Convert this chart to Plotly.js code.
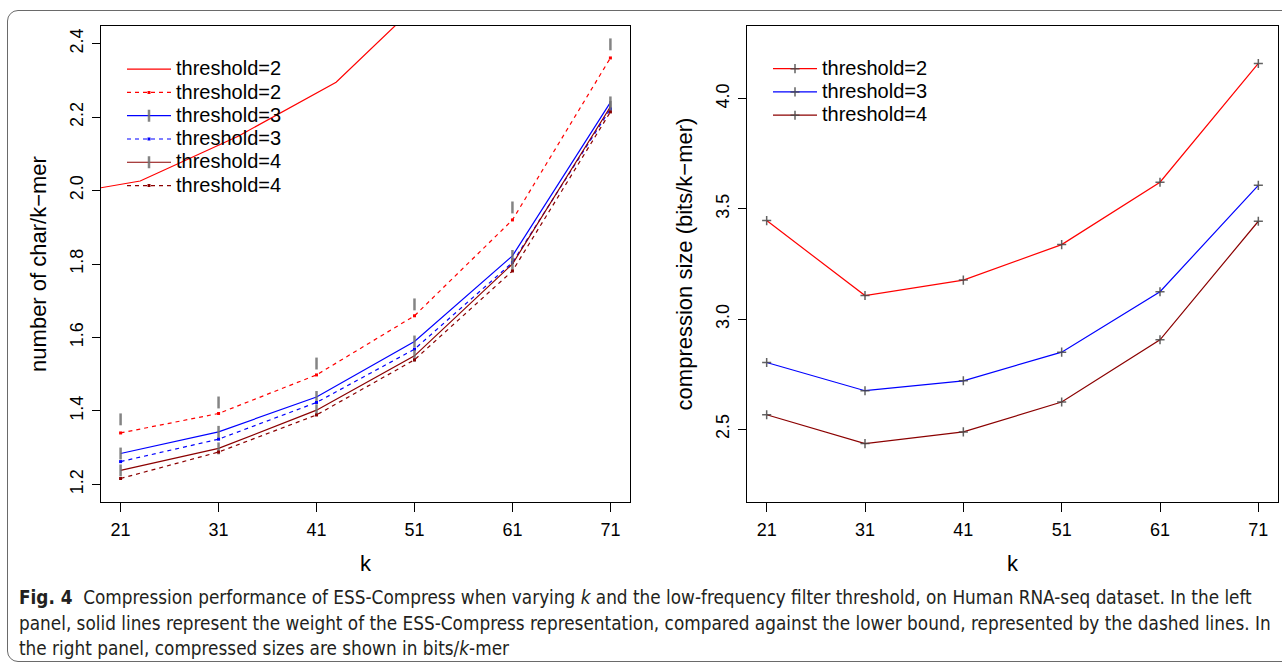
<!DOCTYPE html>
<html>
<head>
<meta charset="utf-8">
<script src="https://cdn.plot.ly/plotly-3.0.1.min.js"></script>
<style>
  html, body { margin: 0; padding: 0; background: #ffffff; }
  #wrap { position: relative; width: 1282px; height: 670px; overflow: hidden; }
  #frame { position: absolute; left: 7px; top: 10px; width: 1300px; height: 652px;
           border: 1.5px solid #6a6a6a; border-radius: 11px; box-sizing: border-box; }
  #chart { position: absolute; left: 0; top: 0; width: 1282px; height: 670px; }
</style>
</head>
<body>
<div id="wrap">
  <div id="frame"></div>
  <div id="chart"></div>
</div>
<script>
// ---------------- data ----------------
const kValues = [21, 31, 41, 51, 61, 71];

// Left panel: number of char / k-mer
const solidT2K      = [13, 23, 33, 43, 53];
const solidT2Line   = [1.980, 2.026, 2.148, 2.295, 2.550];
const solidT2Marks  = [1.377, 1.423, 1.529, 1.690, 1.954, 2.398];
const dashedT2      = [1.340, 1.393, 1.498, 1.659, 1.920, 2.361];
const solidT3       = [1.284, 1.343, 1.438, 1.589, 1.822, 2.240];
const dashedT3      = [1.262, 1.323, 1.423, 1.568, 1.804, 2.222];
const solidT4       = [1.238, 1.298, 1.402, 1.550, 1.800, 2.228];
const dashedT4      = [1.216, 1.288, 1.389, 1.539, 1.781, 2.214];

// Right panel: compression size (bits/k-mer)
const bitsT2 = [3.447, 3.107, 3.177, 3.338, 3.621, 4.160];
const bitsT3 = [2.803, 2.675, 2.720, 2.850, 3.124, 3.607];
const bitsT4 = [2.566, 2.435, 2.488, 2.624, 2.906, 3.444];

const leftYTicks  = [1.2, 1.4, 1.6, 1.8, 2.0, 2.2, 2.4];
const rightYTicks = [2.5, 3.0, 3.5, 4.0];
const seriesNames = ['threshold=2', 'threshold=3', 'threshold=4'];

// ---------------- style ----------------
const RED = '#ff0000', BLUE = '#0000ff', DRED = '#8b0000';
const GRAY_MARK = 'rgba(110,110,110,0.85)';
const FONT = 'Liberation Sans, Arial, sans-serif';
const NARROW = '"Liberation Sans Narrow", "DejaVu Sans Condensed", "Liberation Sans", sans-serif';
const DASH = '4px,4px';
const legendLabel = n => '<span style="font-size:20px">' + n + '</span>';

function solidTrace(x, y, color, name, withMarks) {
  return {
    x: x, y: y, name: legendLabel(name), type: 'scatter', xaxis: 'x', yaxis: 'y', legend: 'legend',
    mode: withMarks ? 'lines+markers' : 'lines',
    line: { color: color, width: 1.2 },
    marker: { symbol: 'line-ns', size: 8.5, color: GRAY_MARK, line: { color: GRAY_MARK, width: 2.5 } }
  };
}
function dashedTrace(x, y, color, name) {
  return {
    x: x, y: y, name: legendLabel(name), type: 'scatter', xaxis: 'x', yaxis: 'y', legend: 'legend',
    mode: 'lines+markers',
    line: { color: color, width: 1.2, dash: DASH },
    marker: { symbol: 'square', size: 3, color: color }
  };
}
function bitsTrace(y, color, name) {
  return {
    x: kValues, y: y, name: legendLabel(name), type: 'scatter', xaxis: 'x2', yaxis: 'y2', legend: 'legend2',
    mode: 'lines+markers',
    line: { color: color, width: 1.2 },
    marker: { symbol: 'cross-thin', size: 6.5, color: 'rgba(70,70,70,0.85)', line: { color: 'rgba(70,70,70,0.85)', width: 1.5 } }
  };
}

const traces = [
  solidTrace(solidT2K, solidT2Line, RED, seriesNames[0], false),
  dashedTrace(kValues, dashedT2, RED, seriesNames[0]),
  solidTrace(kValues, solidT3, BLUE, seriesNames[1], true),
  dashedTrace(kValues, dashedT3, BLUE, seriesNames[1]),
  solidTrace(kValues, solidT4, DRED, seriesNames[2], true),
  dashedTrace(kValues, dashedT4, DRED, seriesNames[2]),
  { x: kValues, y: solidT2Marks, type: 'scatter', mode: 'markers', xaxis: 'x', yaxis: 'y',
    showlegend: false, hoverinfo: 'skip',
    marker: { symbol: 'line-ns', size: 8.5, color: GRAY_MARK, line: { color: GRAY_MARK, width: 2.5 } } },
  bitsTrace(bitsT2, RED, seriesNames[0]),
  bitsTrace(bitsT3, BLUE, seriesNames[1]),
  bitsTrace(bitsT4, DRED, seriesNames[2])
];

const W = 1282, H = 670;
const px = v => v / W;
const py = v => 1 - v / H;

function xAxis(domain) {
  return {
    domain: domain, range: [19, 73], tickmode: 'array', tickvals: kValues,
    ticktext: kValues.map(String),
    ticks: 'outside', ticklen: 9, tickwidth: 1, tickcolor: '#000',
    showline: true, mirror: true, linecolor: '#000', linewidth: 1,
    showgrid: false, zeroline: false, ticklabelstandoff: 2,
    tickfont: { family: FONT, size: 18, color: '#000' },
    title: { text: 'k', font: { family: FONT, size: 22, color: '#000' }, standoff: 17 },
    fixedrange: true
  };
}
function yAxis(domain, range, ticks, title, anchor) {
  return {
    domain: domain, range: range, anchor: anchor, tickmode: 'array', tickvals: ticks,
    ticktext: ticks.map(v => v.toFixed(1)), tickangle: -90,
    ticks: 'outside', ticklen: 8, tickwidth: 1, tickcolor: '#000',
    showline: true, mirror: true, linecolor: '#000', linewidth: 1,
    showgrid: false, zeroline: false, ticklabelstandoff: 2,
    tickfont: { family: FONT, size: 18, color: '#000' },
    title: { text: title, font: { family: FONT, size: 22, color: '#000' }, standoff: 14 },
    fixedrange: true
  };
}

const captionFont = { family: NARROW, size: 18.8, color: '#231f20' };
const captionLines = [
  '<b>Fig. 4</b>  Compression performance of ESS-Compress when varying <i>k</i> and the low-frequency filter threshold, on Human RNA-seq dataset. In the left',
  'panel, solid lines represent the weight of the ESS-Compress representation, compared against the lower bound, represented by the dashed lines. In',
  'the right panel, compressed sizes are shown in bits/<i>k</i>-mer'
];
const captionY = [597, 623, 648];

const legendStyle = {
  bgcolor: 'rgba(0,0,0,0)', borderwidth: 0, xanchor: 'left', yanchor: 'top',
  font: { family: FONT, size: 15.6, color: '#000' }, itemwidth: 44, tracegroupgap: 0,
  itemclick: false, itemdoubleclick: false
};

const layout = {
  width: W, height: H,
  margin: { l: 0, r: 0, t: 0, b: 0 },
  paper_bgcolor: 'rgba(0,0,0,0)', plot_bgcolor: 'rgba(0,0,0,0)',
  showlegend: true,
  xaxis: xAxis([px(101), px(630)]),
  yaxis: yAxis([py(502), py(26)], [1.152, 2.448], leftYTicks, 'number of char/k\u2212mer', 'x'),
  xaxis2: Object.assign(xAxis([px(747), px(1278)]), { anchor: 'y2' }),
  yaxis2: yAxis([py(502), py(26)], [2.17, 4.33], rightYTicks, 'compression size (bits/k\u2212mer)', 'x2'),
  legend: Object.assign({}, legendStyle, { x: px(122), y: py(52.5) }),
  legend2: Object.assign({}, legendStyle, { x: px(768), y: py(52) }),
  annotations: captionLines.map((t, i) => ({
    text: t, xref: 'paper', yref: 'paper', x: px(17), y: py(captionY[i]),
    xanchor: 'left', yanchor: 'middle', showarrow: false, font: captionFont, align: 'left'
  }))
};

Plotly.newPlot('chart', traces, layout, { displayModeBar: false, staticPlot: true });
</script>
</body>
</html>
